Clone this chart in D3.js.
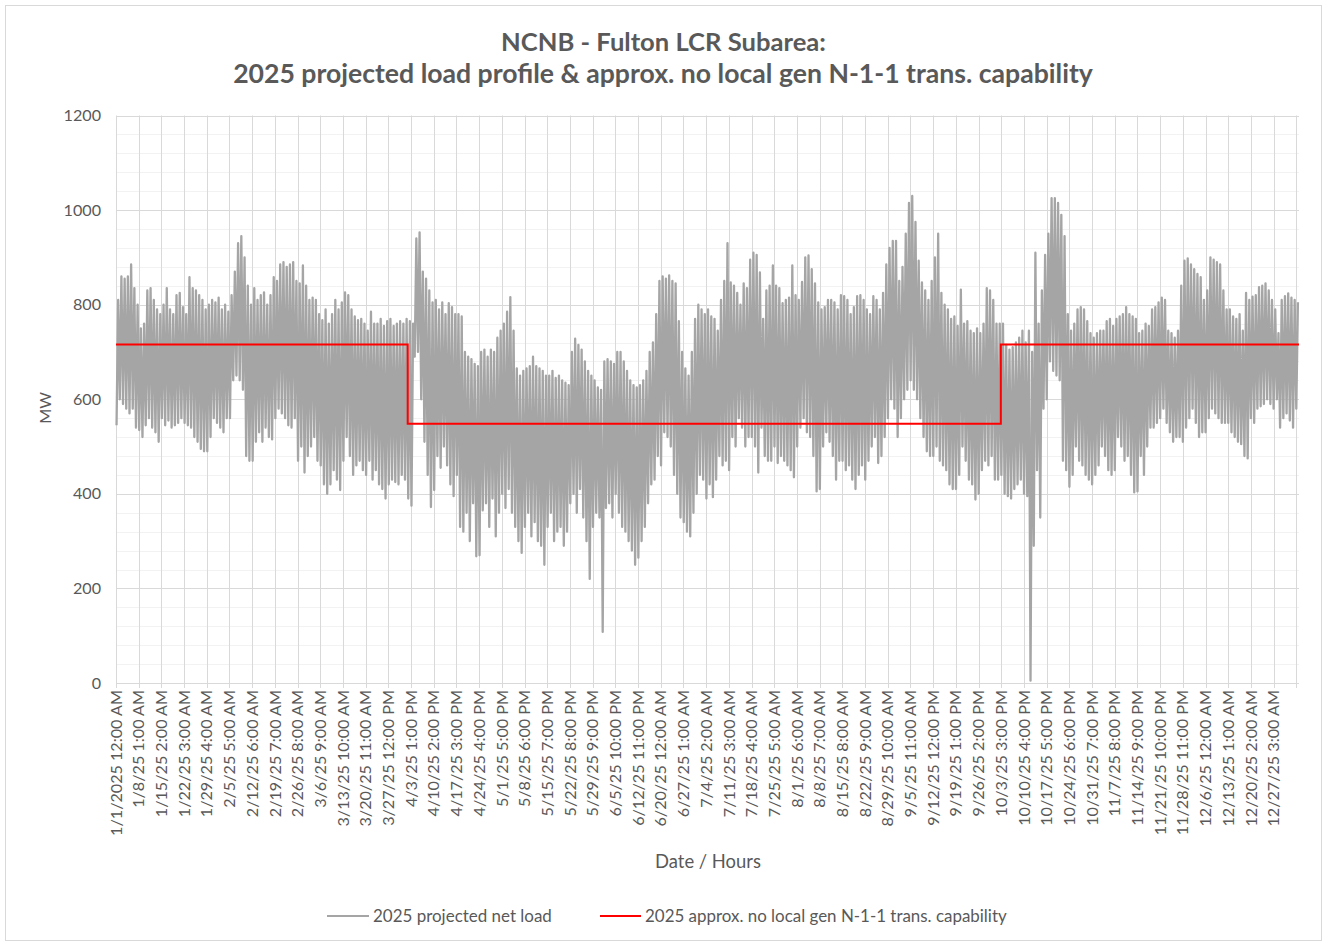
<!DOCTYPE html>
<html><head><meta charset="utf-8">
<script src="https://cdn.jsdelivr.net/npm/d3@7"></script>
<style>html,body{margin:0;padding:0;background:#fff;}svg{display:block;}</style>
</head><body>
<svg id="chart" width="1327" height="945"></svg>
<script>
// ---------- DATA ----------
const titleLines = ["NCNB - Fulton LCR Subarea:", "2025 projected load profile & approx. no local gen N-1-1 trans. capability"];
const yAxisTitle = "MW";
const xAxisTitle = "Date / Hours";
const seriesNames = ["2025 projected net load", "2025 approx. no local gen N-1-1 trans. capability"];
const yTicks = [0, 200, 400, 600, 800, 1000, 1200];
const xTickLabels = ["1/1/2025 12:00 AM","1/8/25 1:00 AM","1/15/25 2:00 AM","1/22/25 3:00 AM","1/29/25 4:00 AM","2/5/25 5:00 AM","2/12/25 6:00 AM","2/19/25 7:00 AM","2/26/25 8:00 AM","3/6/25 9:00 AM","3/13/25 10:00 AM","3/20/25 11:00 AM","3/27/25 12:00 PM","4/3/25 1:00 PM","4/10/25 2:00 PM","4/17/25 3:00 PM","4/24/25 4:00 PM","5/1/25 5:00 PM","5/8/25 6:00 PM","5/15/25 7:00 PM","5/22/25 8:00 PM","5/29/25 9:00 PM","6/5/25 10:00 PM","6/12/25 11:00 PM","6/20/25 12:00 AM","6/27/25 1:00 AM","7/4/25 2:00 AM","7/11/25 3:00 AM","7/18/25 4:00 AM","7/25/25 5:00 AM","8/1/25 6:00 AM","8/8/25 7:00 AM","8/15/25 8:00 AM","8/22/25 9:00 AM","8/29/25 10:00 AM","9/5/25 11:00 AM","9/12/25 12:00 PM","9/19/25 1:00 PM","9/26/25 2:00 PM","10/3/25 3:00 PM","10/10/25 4:00 PM","10/17/25 5:00 PM","10/24/25 6:00 PM","10/31/25 7:00 PM","11/7/25 8:00 PM","11/14/25 9:00 PM","11/21/25 10:00 PM","11/28/25 11:00 PM","12/6/25 12:00 AM","12/13/25 1:00 AM","12/20/25 2:00 AM","12/27/25 3:00 AM"];
const hoursPerLabel = 169;
const hoursInYear = 8760;

// daily peak (MW) of projected net load, Jan 1 .. Dec 31
const dailyMax = [
810,860,855,860,885,835,800, 750,760,830,835,810,790,780, 800,835,790,780,820,825,795, 780,858,835,830,820,810,790,
800,810,805,815,790,800,785, 820,870,930,945,900,840,800, 835,810,820,826,800,820,858, 850,885,890,880,885,890,850,
845,883,840,810,815,810,780, 767,790,760,780,810,790,805, 826,820,790,775,767,770,760, 745,785,760,760,770,755,765,
770,755,760,765,760,770,765, 760,940,953,870,855,830,805, 810,790,805,780,803,795,780, 780,775,700,690,685,675,670,
700,705,690,705,700,730,745, 760,785,816,745,665,650,660, 665,670,690,670,665,660,650, 650,660,645,650,640,635,630,
700,728,715,705,680,660,650, 640,625,620,680,685,680,675, 700,700,680,660,640,630,625, 630,640,660,700,720,780,850,
860,855,862,850,845,765,700, 665,650,700,770,800,790,780, 790,775,770,745,810,850,930, 847,840,825,800,845,835,895,
910,905,868,770,830,840,883, 840,835,803,810,815,883,820, 810,848,900,904,875,845,805, 790,795,810,810,805,790,820,
818,810,780,795,818,820,810, 790,780,818,810,790,825,885, 920,935,935,850,880,950,1015, 1030,975,893,847,830,810,850,
900,950,825,800,790,770,775, 755,832,760,765,745,740,750, 740,760,835,830,810,760,760, 760,715,705,710,720,730,745,
720,745,700,910,760,830,905, 950,1025,1025,1015,990,945,780, 745,760,790,795,790,765,740, 730,740,745,745,765,770,755,
770,775,780,795,780,775,770, 740,745,760,755,790,795,805, 815,810,745,740,730,745,840, 893,898,885,875,865,858,810,
830,900,895,890,885,830,790, 790,775,770,780,745,825,810, 817,820,837,840,845,830,810, 790,740,810,818,824,815,810,
805];
// daily minimum (MW) of projected net load, Jan 1 .. Dec 31
const dailyMin = [
545,600,590,580,570,580,540, 535,520,545,560,540,530,510, 560,545,555,540,545,550,560, 550,545,540,520,510,495,490,
490,520,560,550,540,530,560, 560,640,650,640,620,480,470, 470,510,530,510,540,520,515, 560,580,570,560,545,540,560,
470,500,445,480,500,520,470, 460,420,400,420,450,430,408, 470,520,480,440,460,470,450, 440,470,430,450,420,410,390,
420,430,425,420,440,430,390, 375,690,700,600,510,440,372, 408,480,455,500,460,420,395, 440,330,320,360,300,380,268,
270,365,380,330,390,310,360, 400,370,410,360,330,300,275, 330,360,310,340,300,290,250, 330,360,300,320,330,290,320,
380,400,360,410,350,300,220, 330,360,350,108,370,380,350, 400,360,330,320,300,280,250, 265,300,330,380,420,430,480,
460,530,520,500,440,400,350, 340,320,310,360,400,440,430, 390,420,393,430,480,460,470, 450,520,500,560,540,500,520,
520,500,445,540,480,470,470, 500,465,480,470,460,450,435, 500,540,560,530,520,480,405, 410,500,530,510,480,430,470,
470,450,460,430,410,440,460, 430,470,500,520,465,480,520, 560,600,580,520,560,600,620, 640,620,600,560,520,490,480,
480,500,470,460,450,420,410, 410,440,500,470,430,420,388, 400,450,470,460,480,430,430, 440,400,395,390,410,420,430,
400,395,5,290,450,350,580, 600,680,660,650,640,470,450, 415,440,500,470,460,440,430, 420,440,460,500,480,450,440,
450,520,500,470,480,440,403, 405,480,440,500,540,540,550, 560,580,550,530,510,520,520, 510,540,560,580,550,520,530,
530,560,580,570,560,550,550, 550,530,520,510,505,480,475, 560,550,580,585,590,600,590, 580,600,540,560,570,555,540,
580];
// transmission capability steps (start hour, MW)
const capStartHours = [0, 2160, 6552];
const capValues = [716, 548, 716];

// ---------- LAYOUT ----------
const svg = d3.select("#chart");
const FONT = "Lato, 'Open Sans', sans-serif";
const TXT = "#595959";
const plot = {left: 116, right: 1299, top: 115.5, bottom: 683};

svg.append("rect").attr("x",5.5).attr("y",5.5).attr("width",1316).attr("height",935)
  .attr("fill","#fff").attr("stroke","#d9d9d9").attr("stroke-width",1);

function fit(sel, target){
  const w = sel.node().getComputedTextLength();
  const fs = parseFloat(sel.attr("font-size"));
  sel.attr("font-size", fs*target/w);
  return fs*target/w;
}

const y = d3.scaleLinear().domain([0,1200]).range([plot.bottom, plot.top]);
const xData = d3.scaleLinear().domain([0, hoursInYear]).range([plot.left, plot.right]);
const xTick = d3.scaleLinear().domain([0, 52*hoursPerLabel]).range([plot.left, 1296.3]);

// minor horizontal grid
const g = svg.append("g");
g.selectAll(".minor").data(d3.range(0,1201,40).filter(v=>v%200!==0)).join("line")
  .attr("x1",plot.left).attr("x2",plot.right)
  .attr("y1",d=>Math.round(y(d))+0.5).attr("y2",d=>Math.round(y(d))+0.5)
  .attr("stroke","#f2f2f2").attr("stroke-width",1);
// vertical grid
const tickHours = d3.range(0, 53).map(k=>k*hoursPerLabel);
g.selectAll(".vg").data(tickHours).join("line")
  .attr("x1",d=>Math.round(xTick(d))+0.5).attr("x2",d=>Math.round(xTick(d))+0.5)
  .attr("y1",plot.top).attr("y2",plot.bottom+5)
  .attr("stroke","#d9d9d9").attr("stroke-width",1);
// major horizontal grid
g.selectAll(".major").data(yTicks).join("line")
  .attr("x1",plot.left).attr("x2",plot.right)
  .attr("y1",d=>Math.round(y(d))+0.5).attr("y2",d=>Math.round(y(d))+0.5)
  .attr("stroke","#d9d9d9").attr("stroke-width",1);

// y tick labels
const yl = svg.append("g").selectAll("text").data(yTicks).join("text")
  .attr("x",101).attr("y",d=>y(d)).attr("dy","0.35em")
  .attr("text-anchor","end").attr("font-family",FONT).attr("font-size",16).attr("fill",TXT)
  .text(d=>d);

// x tick labels
const xl = svg.append("g").selectAll("text").data(xTickLabels).join("text")
  .attr("transform",(d,i)=>`translate(${xTick(i*hoursPerLabel)},690) rotate(-90)`)
  .attr("dy","0.35em").attr("text-anchor","end")
  .attr("font-family",FONT).attr("font-size",16).attr("fill",TXT)
  .text(d=>d);
const xfs = fit(d3.select(xl.nodes()[0]), 146);
xl.attr("font-size", xfs);
yl.attr("font-size", xfs);

// series: projected net load (daily trough at 4h, daily peak at 16h)
const pts = [];
dailyMin.forEach((mn,d)=>{
  pts.push([d*24+4, mn]);
  pts.push([d*24+16, dailyMax[d]]);
});
svg.append("path").datum(pts)
  .attr("fill","none").attr("stroke","#a5a5a5").attr("stroke-width",2.3).attr("stroke-linejoin","round")
  .attr("d", d3.line().x(p=>xData(p[0])).y(p=>y(p[1])));

// capability step line
const capPts = capStartHours.map((h,i)=>[h, capValues[i]]).concat([[hoursInYear, capValues[capValues.length-1]]]);
svg.append("path").datum(capPts)
  .attr("fill","none").attr("stroke","#ff0000").attr("stroke-width",2)
  .attr("d", d3.line().curve(d3.curveStepAfter).x(p=>xData(p[0])).y(p=>y(p[1])));

// titles
const t1 = svg.append("text").attr("x",663.5).attr("y",42).attr("dy","0.35em").attr("text-anchor","middle")
  .attr("font-family",FONT).attr("font-weight","bold").attr("font-size",22).attr("fill",TXT).text(titleLines[0]);
fit(t1, 325);
const t2 = svg.append("text").attr("x",663).attr("y",74).attr("dy","0.35em").attr("text-anchor","middle")
  .attr("font-family",FONT).attr("font-weight","bold").attr("font-size",22).attr("fill",TXT).text(titleLines[1]);
fit(t2, 860);

// axis titles
svg.append("text").attr("transform","translate(45,408) rotate(-90)").attr("dy","0.35em").attr("text-anchor","middle")
  .attr("font-family",FONT).attr("font-size",xfs).attr("fill",TXT).text(yAxisTitle);
const xt = svg.append("text").attr("x",708).attr("y",862).attr("dy","0.35em").attr("text-anchor","middle")
  .attr("font-family",FONT).attr("font-size",17).attr("fill",TXT).text(xAxisTitle);
fit(xt, 106);

// legend
const lg = svg.append("g");
lg.append("line").attr("x1",327).attr("x2",369).attr("y1",916).attr("y2",916).attr("stroke","#a5a5a5").attr("stroke-width",2);
const l1 = lg.append("text").attr("x",373).attr("y",916).attr("dy","0.35em").attr("font-family",FONT).attr("font-size",16).attr("fill",TXT).text(seriesNames[0]);
fit(l1, 179);
lg.append("line").attr("x1",600).attr("x2",641).attr("y1",916).attr("y2",916).attr("stroke","#ff0000").attr("stroke-width",2);
const l2 = lg.append("text").attr("x",645).attr("y",916).attr("dy","0.35em").attr("font-family",FONT).attr("font-size",16).attr("fill",TXT).text(seriesNames[1]);
fit(l2, 362);
</script>
</body></html>
